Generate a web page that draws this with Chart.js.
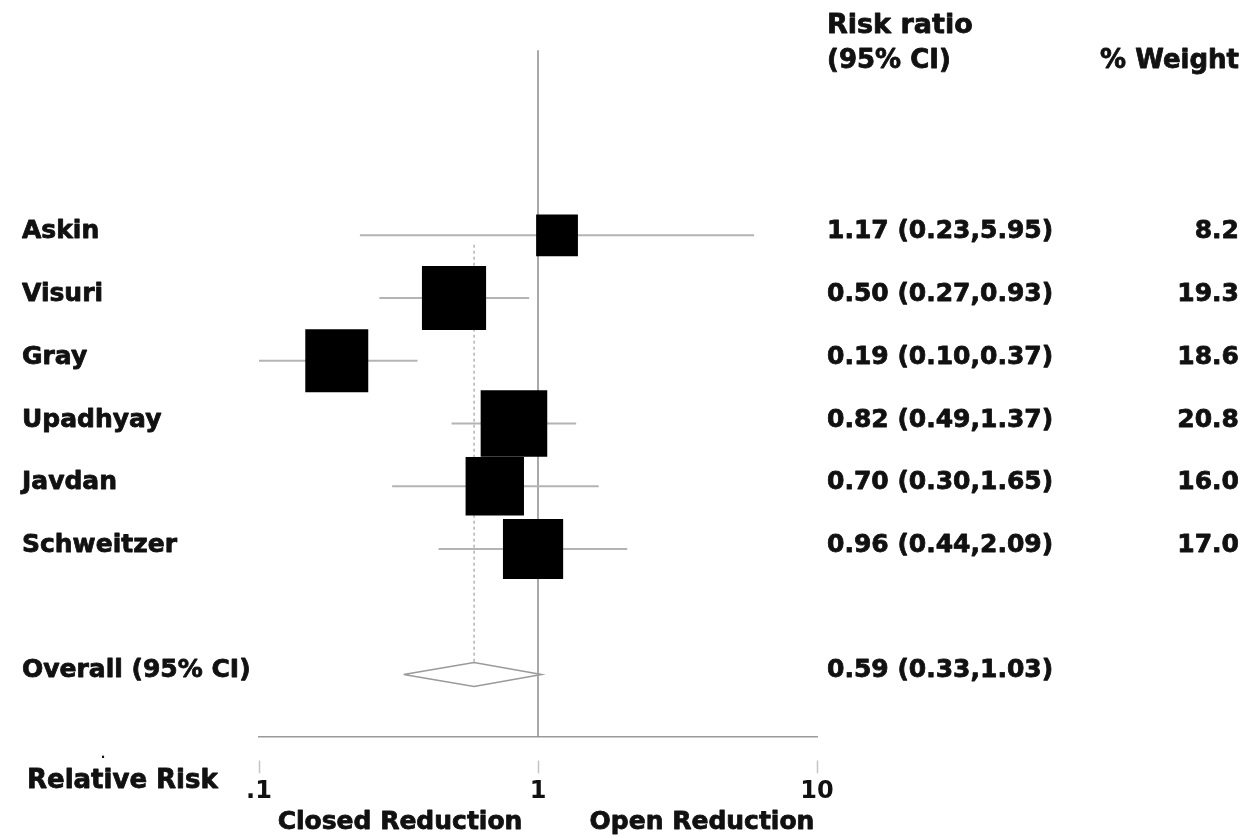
<!DOCTYPE html>
<html>
<head>
<meta charset="utf-8">
<script src="https://cdn.jsdelivr.net/npm/chart.js@4.4.0/dist/chart.umd.min.js"></script>
<style>
    html, body { margin: 0; padding: 0; background: #ffffff; }
    #wrap { width: 1251px; height: 838px; position: relative; }
</style>
</head>
<body>
<div id="wrap"><canvas id="forestChart"></canvas></div>
<script>
// Study data
const studies = ['Askin', 'Visuri', 'Gray', 'Upadhyay', 'Javdan', 'Schweitzer'];
const riskRatio = [1.17, 0.50, 0.19, 0.82, 0.70, 0.96];
const ciLow = [0.23, 0.27, 0.10, 0.49, 0.30, 0.44];
const ciHigh = [5.95, 0.93, 0.37, 1.37, 1.65, 2.09];
const weights = [8.2, 19.3, 18.6, 20.8, 16.0, 17.0];

// Pooled estimate
const overallLabel = 'Overall (95% CI)';
const overallRR = 0.59;
const overallLow = 0.33;
const overallHigh = 1.03;
const overallRow = 7;

// Axis
const tickValues = [0.1, 1, 10];
const tickLabels = ['.1', '1', '10'];

const FONT = '"DejaVu Sans", "Liberation Sans", Arial, sans-serif';
const LINE_GREY = '#9a9a9a';

// CI whiskers, one small line per study
const ciDatasets = studies.map((s, i) => ({
    type: 'line',
    label: s + ' CI',
    data: [{ x: ciLow[i], y: i }, { x: ciHigh[i], y: i }],
    borderColor: '#b4b4b4',
    borderWidth: 2,
    pointRadius: 0,
    order: 3
}));

// Pooled diamond outline
const diamond = [
    { x: overallLow, y: overallRow },
    { x: overallRR, y: overallRow - 0.19 },
    { x: overallHigh, y: overallRow },
    { x: overallRR, y: overallRow + 0.19 },
    { x: overallLow, y: overallRow }
];

// heavy text: fill plus a thin stroke, the original type is very black
function heavyText(ctx, txt, x, y) {
    ctx.fillText(txt, x, y);
    ctx.strokeText(txt, x, y);
}

// Text columns drawn next to the rows
const textPlugin = {
    id: 'forestText',
    afterDraw(chart) {
        const ctx = chart.ctx;
        const yScale = chart.scales.y;
        ctx.save();
        ctx.fillStyle = '#111';
        ctx.strokeStyle = '#111';
        ctx.lineWidth = 0.8;
        ctx.lineJoin = 'round';
        ctx.textBaseline = 'alphabetic';

        ctx.font = 'bold 25px ' + FONT;
        studies.forEach((s, i) => {
            const y = yScale.getPixelForValue(i) + 3;
            ctx.textAlign = 'left';
            heavyText(ctx, s, 22, y);
            heavyText(ctx, riskRatio[i].toFixed(2) + ' (' + ciLow[i].toFixed(2) + ',' + ciHigh[i].toFixed(2) + ')', 827, y);
            ctx.textAlign = 'right';
            heavyText(ctx, weights[i].toFixed(1), 1239, y);
        });

        const yo = yScale.getPixelForValue(overallRow) + 3;
        ctx.textAlign = 'left';
        heavyText(ctx, overallLabel, 22, yo);
        heavyText(ctx, overallRR.toFixed(2) + ' (' + overallLow.toFixed(2) + ',' + overallHigh.toFixed(2) + ')', 827, yo);

        // column headers
        ctx.font = 'bold 27px ' + FONT;
        heavyText(ctx, 'Risk ratio', 827, 33);
        ctx.font = 'bold 26px ' + FONT;
        heavyText(ctx, '(95% CI)', 827, 68);
        ctx.textAlign = 'right';
        heavyText(ctx, '% Weight', 1239, 68);

        // bottom labels
        ctx.textAlign = 'left';
        heavyText(ctx, 'Relative Risk', 27, 788);
        ctx.font = 'bold 25px ' + FONT;
        ctx.textAlign = 'center';
        heavyText(ctx, 'Closed Reduction', 400, 829);
        heavyText(ctx, 'Open Reduction', 702, 829);
        ctx.font = 'bold 12px ' + FONT;
        ctx.fillText('.', 103, 758);
        ctx.restore();
    }
};

const ctx = document.getElementById('forestChart');

new Chart(ctx, {
    type: 'scatter',
    data: {
        datasets: [
            {
                label: 'Risk ratio',
                data: riskRatio.map((v, i) => ({ x: v, y: i })),
                pointStyle: 'rect',
                // square side grows with sqrt(weight)
                pointRadius: weights.map(w => 14.6 * Math.sqrt(w) / Math.SQRT2),
                backgroundColor: '#000',
                borderColor: '#000',
                borderWidth: 0,
                order: 0
            },
            {
                type: 'line',
                label: 'Overall',
                data: diamond,
                borderColor: LINE_GREY,
                borderWidth: 1.5,
                pointRadius: 0,
                fill: false,
                order: 1
            },
            ...ciDatasets,
            {
                type: 'line',
                label: 'No effect',
                data: [{ x: 1, y: -2.95 }, { x: 1, y: 8 }],
                borderColor: '#8c8c8c',
                borderWidth: 1.5,
                pointRadius: 0,
                order: 4
            },
            {
                type: 'line',
                label: 'Pooled',
                data: [{ x: overallRR, y: 0.15 }, { x: overallRR, y: overallRow - 0.19 }],
                borderColor: '#a0a0a0',
                borderWidth: 1.2,
                borderDash: [3, 3],
                pointRadius: 0,
                order: 5
            }
        ]
    },
    options: {
        responsive: true,
        maintainAspectRatio: false,
        animation: false,
        layout: {
            padding: { left: 259, right: 434, top: 44, bottom: 28 }
        },
        plugins: {
            legend: { display: false },
            tooltip: { enabled: false }
        },
        scales: {
            x: {
                type: 'logarithmic',
                position: 'bottom',
                min: 0.1,
                max: 10,
                afterBuildTicks: function(scale) {
                    scale.ticks = tickValues.map(v => ({ value: v }));
                },
                border: {
                    display: true,
                    color: LINE_GREY,
                    width: 1.5
                },
                grid: {
                    drawOnChartArea: false,
                    tickLength: 36,
                    tickColor: '#c4c4c4',
                    tickWidth: 1.5,
                    tickBorderDash: [0, 23, 13, 60]
                },
                ticks: {
                    padding: 4,
                    color: '#111',
                    maxRotation: 0,
                    autoSkip: false,
                    font: {
                        size: 24,
                        weight: 'bold',
                        family: FONT
                    },
                    callback: function(value) {
                        const idx = tickValues.indexOf(value);
                        return idx >= 0 ? tickLabels[idx] : '';
                    }
                }
            },
            y: {
                type: 'linear',
                display: false,
                reverse: true,
                min: -3,
                max: 8
            }
        }
    },
    plugins: [textPlugin]
});
</script>
</body>
</html>
